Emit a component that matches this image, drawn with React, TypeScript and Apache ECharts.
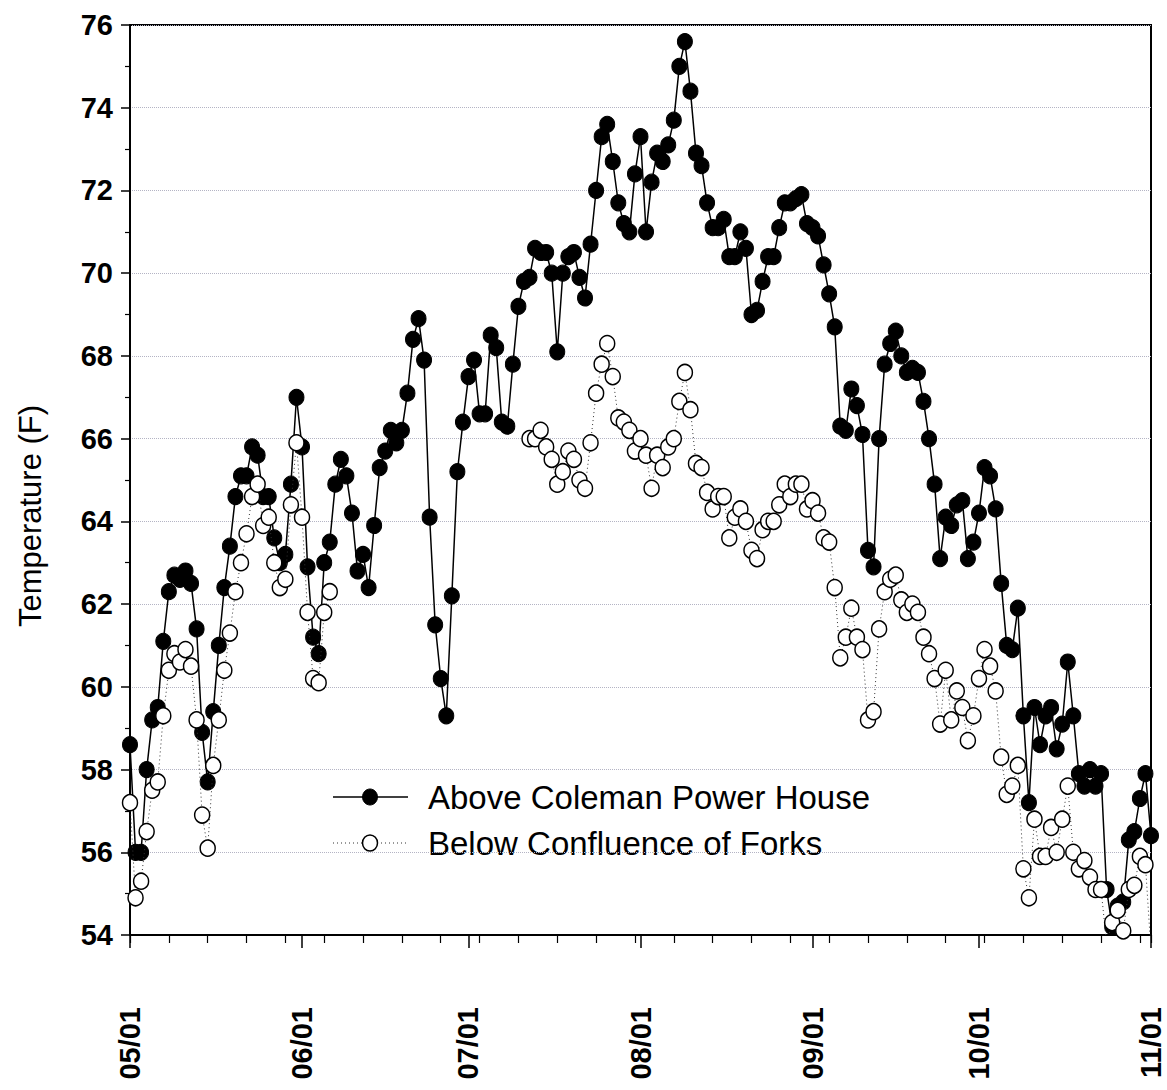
import React, { useEffect, useRef } from 'react';
import * as echarts from 'echarts';

// Day index 0 = 05/01, 184 = 11/01
const monthTickDays = [0, 31, 61, 92, 123, 153, 184];
const monthLabels = ['05/01', '06/01', '07/01', '08/01', '09/01', '10/01', '11/01'];
const seriesNames = ['Above Coleman Power House', 'Below Confluence of Forks'];
const yAxisTitle = 'Temperature (F)';

const aboveColeman: number[] = [
  58.6, 56.0, 56.0, 58.0, 59.2, 59.5, 61.1, 62.3, 62.7, 62.6,
  62.8, 62.5, 61.4, 58.9, 57.7, 59.4, 61.0, 62.4, 63.4, 64.6,
  65.1, 65.1, 65.8, 65.6, 64.6, 64.6, 63.6, 63.0, 63.2, 64.9,
  67.0, 65.8, 62.9, 61.2, 60.8, 63.0, 63.5, 64.9, 65.5, 65.1,
  64.2, 62.8, 63.2, 62.4, 63.9, 65.3, 65.7, 66.2, 65.9, 66.2,
  67.1, 68.4, 68.9, 67.9, 64.1, 61.5, 60.2, 59.3, 62.2, 65.2,
  66.4, 67.5, 67.9, 66.6, 66.6, 68.5, 68.2, 66.4, 66.3, 67.8,
  69.2, 69.8, 69.9, 70.6, 70.5, 70.5, 70.0, 68.1, 70.0, 70.4,
  70.5, 69.9, 69.4, 70.7, 72.0, 73.3, 73.6, 72.7, 71.7, 71.2,
  71.0, 72.4, 73.3, 71.0, 72.2, 72.9, 72.7, 73.1, 73.7, 75.0,
  75.6, 74.4, 72.9, 72.6, 71.7, 71.1, 71.1, 71.3, 70.4, 70.4,
  71.0, 70.6, 69.0, 69.1, 69.8, 70.4, 70.4, 71.1, 71.7, 71.7,
  71.8, 71.9, 71.2, 71.1, 70.9, 70.2, 69.5, 68.7, 66.3, 66.2,
  67.2, 66.8, 66.1, 63.3, 62.9, 66.0, 67.8, 68.3, 68.6, 68.0,
  67.6, 67.7, 67.6, 66.9, 66.0, 64.9, 63.1, 64.1, 63.9, 64.4,
  64.5, 63.1, 63.5, 64.2, 65.3, 65.1, 64.3, 62.5, 61.0, 60.9,
  61.9, 59.3, 57.2, 59.5, 58.6, 59.3, 59.5, 58.5, 59.1, 60.6,
  59.3, 57.9, 57.6, 58.0, 57.6, 57.9, 55.1, 54.2, 54.7, 54.8,
  56.3, 56.5, 57.3, 57.9, 56.4,
];

const belowConfluence: (number | null)[] = [
  57.2, 54.9, 55.3, 56.5, 57.5, 57.7, 59.3, 60.4, 60.8, 60.6,
  60.9, 60.5, 59.2, 56.9, 56.1, 58.1, 59.2, 60.4, 61.3, 62.3,
  63.0, 63.7, 64.6, 64.9, 63.9, 64.1, 63.0, 62.4, 62.6, 64.4,
  65.9, 64.1, 61.8, 60.2, 60.1, 61.8, 62.3, null, null, null,
  null, null, null, null, null, null, null, null, null, null,
  null, null, null, null, null, null, null, null, null, null,
  null, null, null, null, null, null, null, null, null, null,
  null, null, 66.0, 66.0, 66.2, 65.8, 65.5, 64.9, 65.2, 65.7,
  65.5, 65.0, 64.8, 65.9, 67.1, 67.8, 68.3, 67.5, 66.5, 66.4,
  66.2, 65.7, 66.0, 65.6, 64.8, 65.6, 65.3, 65.8, 66.0, 66.9,
  67.6, 66.7, 65.4, 65.3, 64.7, 64.3, 64.6, 64.6, 63.6, 64.1,
  64.3, 64.0, 63.3, 63.1, 63.8, 64.0, 64.0, 64.4, 64.9, 64.6,
  64.9, 64.9, 64.3, 64.5, 64.2, 63.6, 63.5, 62.4, 60.7, 61.2,
  61.9, 61.2, 60.9, 59.2, 59.4, 61.4, 62.3, 62.6, 62.7, 62.1,
  61.8, 62.0, 61.8, 61.2, 60.8, 60.2, 59.1, 60.4, 59.2, 59.9,
  59.5, 58.7, 59.3, 60.2, 60.9, 60.5, 59.9, 58.3, 57.4, 57.6,
  58.1, 55.6, 54.9, 56.8, 55.9, 55.9, 56.6, 56.0, 56.8, 57.6,
  56.0, 55.6, 55.8, 55.4, 55.1, 55.1, 53.8, 54.3, 54.6, 54.1,
  55.1, 55.2, 55.9, 55.7, 53.6,
];

const FONT = "'Liberation Sans', Arial, Helvetica, sans-serif";

export default function App() {
  const ref = useRef<HTMLDivElement>(null);

  useEffect(() => {
    if (!ref.current) return;
    const chart = echarts.init(ref.current, null, { renderer: 'svg' });
    const labelMap = new Map<number, string>(monthTickDays.map((d, i) => [d, monthLabels[i]]));

    const legendRows = [
      { y: 797, filled: true, name: seriesNames[0] },
      { y: 843, filled: false, name: seriesNames[1] },
    ];
    const legendGraphics: any[] = [];
    legendRows.forEach((r) => {
      legendGraphics.push({
        type: 'line',
        shape: { x1: 333, y1: r.y, x2: 408, y2: r.y },
        style: r.filled
          ? { stroke: '#000', lineWidth: 1.5 }
          : { stroke: '#333', lineWidth: 1, lineDash: [1, 3] },
        silent: true,
      });
      legendGraphics.push({
        type: 'ellipse',
        shape: { cx: 370, cy: r.y, rx: 7.5, ry: 8 },
        style: r.filled
          ? { fill: '#000', stroke: '#000', lineWidth: 1 }
          : { fill: '#fff', stroke: '#000', lineWidth: 1.5 },
        silent: true,
      });
      legendGraphics.push({
        type: 'text',
        x: 428,
        y: r.y,
        style: {
          text: r.name,
          fontSize: 33,
          fontFamily: FONT,
          fill: '#000',
          align: 'left',
          verticalAlign: 'middle',
        },
        silent: true,
      });
    });

    chart.setOption({
      animation: false,
      backgroundColor: '#fff',
      grid: {
        left: 130,
        top: 25,
        right: 16,
        bottom: 155,
        show: true,
        borderColor: '#000',
        borderWidth: 2,
        backgroundColor: 'transparent',
      },
      xAxis: [
        {
          type: 'value',
          min: 0,
          max: 184,
          position: 'bottom',
          axisLine: { show: true, onZero: false, lineStyle: { color: '#000', width: 2 } },
          axisTick: {
            show: true,
            customValues: monthTickDays,
            length: 13,
            lineStyle: { color: '#000', width: 1.5 },
          },
          axisLabel: {
            show: true,
            customValues: monthTickDays,
            rotate: 90,
            margin: 72,
            formatter: (v: number) => labelMap.get(Math.round(v)) ?? '',
            fontSize: 29,
            fontWeight: 'bold',
            fontFamily: FONT,
            color: '#000',
          },
          splitLine: { show: false },
        },
        {
          type: 'value',
          min: 0,
          max: 184,
          interval: 7,
          position: 'bottom',
          axisLine: { show: false, onZero: false },
          axisTick: { show: true, length: 8, lineStyle: { color: '#000', width: 1.2 } },
          axisLabel: { show: false },
          splitLine: { show: false },
        },
      ],
      yAxis: {
        type: 'value',
        min: 54,
        max: 76,
        interval: 2,
        axisLine: { show: true, onZero: false, lineStyle: { color: '#000', width: 2 } },
        axisTick: { show: true, length: 9, lineStyle: { color: '#000', width: 1.5 } },
        minorTick: { show: true, splitNumber: 2, length: 5, lineStyle: { color: '#000', width: 1.2 } },
        axisLabel: {
          fontSize: 29,
          fontWeight: 'bold',
          fontFamily: FONT,
          color: '#000',
          margin: 17,
        },
        splitLine: { show: true, lineStyle: { color: '#b4b4c4', type: 'dotted', width: 1 } },
        minorSplitLine: { show: false },
      },
      series: [
        {
          name: seriesNames[0],
          type: 'line',
          xAxisIndex: 0,
          data: aboveColeman.map((v, i) => [i, v]),
          symbol: 'circle',
          symbolSize: [15, 16],
          itemStyle: { color: '#000', borderColor: '#000', borderWidth: 1 },
          lineStyle: { color: '#000', width: 1.5 },
          clip: true,
          z: 2,
        },
        {
          name: seriesNames[1],
          type: 'line',
          xAxisIndex: 0,
          data: belowConfluence.map((v, i) => [i, v === null ? null : v]),
          connectNulls: false,
          symbol: 'circle',
          symbolSize: [15, 16],
          itemStyle: { color: '#fff', borderColor: '#000', borderWidth: 1.5 },
          lineStyle: { color: '#333', width: 1, type: [1, 3] },
          clip: true,
          z: 3,
        },
      ],
      graphic: [
        {
          type: 'text',
          x: 30,
          y: 516,
          rotation: Math.PI / 2,
          style: {
            text: yAxisTitle,
            fontSize: 31,
            fontFamily: FONT,
            fill: '#000',
            align: 'center',
            verticalAlign: 'middle',
          },
          silent: true,
        },
        ...legendGraphics,
      ],
    });

    return () => chart.dispose();
  }, []);

  return (
    <div
      ref={ref}
      style={{ position: 'fixed', left: 0, top: 0, width: 1167, height: 1090, background: '#fff' }}
    />
  );
}
